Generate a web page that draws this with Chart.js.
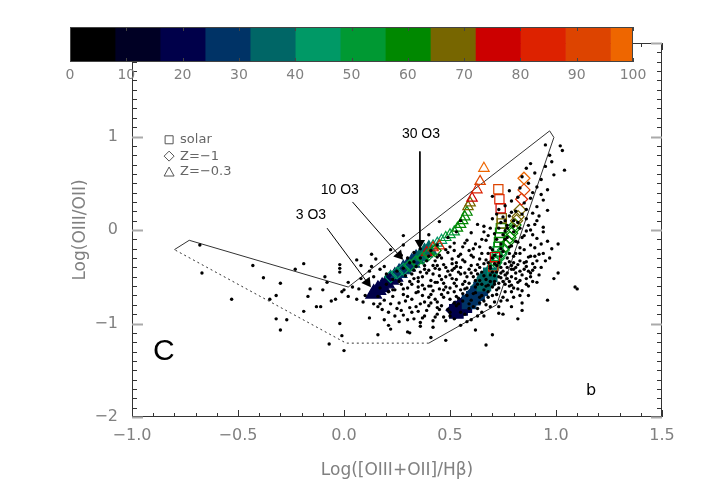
<!DOCTYPE html>
<html>
<head>
<meta charset="utf-8">
<script src="https://cdn.jsdelivr.net/npm/chart.js@4"></script>
<style>
  html, body { margin: 0; padding: 0; background: #fff; }
  #wrap { position: relative; width: 703px; height: 503px; }
  #wrap canvas { position: absolute; left: 0; top: 0; }
</style>
</head>
<body>
<div id="wrap">
  <canvas id="plot" width="703" height="503"></canvas>
  <canvas id="cbar" width="703" height="90"></canvas>
</div>
<script>
// colour bar
const cbarEdges = [0, 8, 16, 24, 32, 40, 48, 56, 64, 72, 80, 88, 96, 100];
const cbarColors = ['#000000', '#000024', '#00004a', '#003366', '#006666', '#009966',
  '#009933', '#008800', '#776600', '#cc0000', '#dd2200', '#dd4400', '#ee6600'];
const cbarTicks = [0, 10, 20, 30, 40, 50, 60, 70, 80, 90, 100];

// axes
const xTicks = [-1.0, -0.5, 0.0, 0.5, 1.0, 1.5];
const yTicks = [-2, -1, 0, 1, 2];

// envelope (solid part, then dotted part)
const envelopeSolid = [[-0.80, -0.21], [-0.73, -0.11], [0.02, -0.61], [0.97, 1.06],
  [0.99, 0.99], [0.72, -0.80], [0.40, -1.21]];
const envelopeDotted = [[0.40, -1.21], [0.01, -1.21], [-0.80, -0.21]];

// model tracks: [x, y, value on colour bar]
const zm03Track = [
  [0.14, -0.68, 17], [0.16, -0.64, 18], [0.18, -0.61, 19], [0.20, -0.57, 20], [0.22, -0.53, 22],
  [0.24, -0.50, 23], [0.26, -0.46, 25], [0.28, -0.42, 26], [0.30, -0.39, 28], [0.32, -0.35, 29],
  [0.34, -0.31, 31], [0.36, -0.28, 33], [0.38, -0.24, 35], [0.40, -0.21, 38],
  [0.42, -0.17, 41], [0.44, -0.14, 44], [0.46, -0.11, 47], [0.48, -0.08, 50], [0.50, -0.05, 52],
  [0.52, -0.02, 54], [0.535, 0.02, 56], [0.55, 0.06, 58], [0.56, 0.10, 60], [0.57, 0.14, 62],
  [0.58, 0.19, 63], [0.585, 0.25, 66], [0.595, 0.29, 69],
  [0.604, 0.34, 75], [0.627, 0.43, 82], [0.642, 0.52, 90], [0.66, 0.66, 98],
  [0.39, -0.24, 76], [0.42, -0.19, 80], [0.45, -0.17, 84]
];
const zm1Track = [
  [0.524, -0.857, 17], [0.545, -0.83, 19], [0.563, -0.804, 21], [0.585, -0.76, 23], [0.61, -0.714, 26],
  [0.625, -0.66, 29], [0.642, -0.607, 32], [0.655, -0.56, 35], [0.673, -0.50, 38],
  [0.688, -0.45, 42], [0.704, -0.393, 46], [0.716, -0.35, 48], [0.728, -0.304, 50], [0.74, -0.26, 52],
  [0.752, -0.214, 54], [0.763, -0.17, 56], [0.775, -0.125, 58], [0.783, -0.08, 60], [0.791, -0.036, 61],
  [0.80, 0.01, 62], [0.807, 0.054, 63], [0.814, 0.10, 66], [0.821, 0.143, 68], [0.830, 0.214, 70],
  [0.838, 0.329, 80], [0.849, 0.429, 88], [0.849, 0.554, 97],
  [0.22, -0.50, 45], [0.25, -0.46, 46], [0.28, -0.42, 47], [0.31, -0.38, 48], [0.34, -0.34, 50],
  [0.37, -0.30, 52], [0.40, -0.26, 55], [0.43, -0.22, 58]
];
const solarTrack = [
  [0.53, -0.87, 18], [0.55, -0.84, 20], [0.57, -0.81, 22], [0.59, -0.77, 24], [0.61, -0.73, 26],
  [0.63, -0.68, 28], [0.645, -0.63, 30], [0.66, -0.58, 33], [0.675, -0.53, 35], [0.69, -0.48, 38],
  [0.70, -0.43, 42], [0.708, -0.38, 45], [0.714, -0.33, 48], [0.72, -0.28, 50], [0.724, -0.23, 52],
  [0.728, -0.18, 54], [0.731, -0.13, 56], [0.734, -0.08, 58], [0.736, -0.03, 60], [0.74, 0.02, 62],
  [0.744, 0.07, 65], [0.744, 0.125, 68], [0.739, 0.232, 76], [0.733, 0.329, 85], [0.728, 0.436, 95],
  [0.712, -0.29, 78], [0.704, -0.39, 80]
];

// arrows: [x0, y0, x1, y1] and their labels
const arrowLines = [[-0.08, 0.02, 0.11, -0.56], [0.04, 0.30, 0.26, -0.27], [0.358, 0.84, 0.358, -0.14]];
const arrowLabels = ['3 O3', '10 O3', '30 O3'];
const arrowLabelPos = [[-0.156, 0.16], [-0.02, 0.43], [0.363, 1.03]];

// observed galaxies
const galaxyDots = [
  [-0.68, -0.16], [-0.67, -0.46], [-0.53, -0.74], [-0.43, -0.38], [-0.38, -0.51], [-0.35, -0.74],
  [-0.32, -0.70], [-0.30, -0.57], [-0.32, -0.95], [-0.27, -0.96], [-0.30, -1.07], [-0.23, -0.42],
  [-0.19, -0.36], [-0.16, -0.63], [-0.17, -0.71], [-0.19, -0.87], [-0.13, -0.82], [-0.11, -0.82],
  [-0.10, -0.64], [-0.09, -0.50], [-0.08, -0.56], [-0.06, -0.76], [-0.04, -0.74], [-0.02, -0.37],
  [-0.02, -0.41], [-0.02, -0.45], [-0.07, -1.22], [-0.02, -1.00], [-0.01, -1.13], [0.00, -1.29],
  [-0.01, -0.66], [0.00, -0.64], [0.02, -0.56], [0.02, -0.71], [0.04, -0.61], [0.06, -0.32],
  [0.06, -0.74], [0.08, -0.38], [0.08, -0.52], [0.09, -0.77], [0.12, -0.94], [0.13, -0.26],
  [0.14, -0.79], [0.15, -0.31], [0.13, -0.39], [0.16, -1.12], [0.17, -0.79], [0.19, -0.39],
  [0.19, -0.96], [0.21, -1.02], [0.22, -1.06], [0.22, -0.21], [0.23, -0.64], [0.26, -0.98],
  [0.28, -0.06], [0.28, -0.16], [0.31, -1.10],
  [0.95, 0.91], [1.02, 0.90], [1.03, 0.85], [0.97, 0.80],
  [0.98, 0.73], [0.88, 0.71], [1.04, 0.64], [0.90, 0.61], [0.99, 0.59], [0.93, 0.54], [0.86, 0.66], [0.95, 0.68],
  [0.91, 0.46], [0.96, 0.43], [0.87, 0.50], [0.83, 0.45], [0.89, 0.40], [0.84, 0.57], [0.93, 0.38], [0.78, 0.42],
  [0.94, 0.32], [0.96, 0.21], [0.91, 0.25], [0.89, 0.18], [0.85, 0.29], [0.82, 0.35], [0.79, 0.31],
  [0.86, 0.22], [0.76, 0.26], [0.81, 0.20], [0.78, 0.15], [0.88, 0.34], [0.73, 0.22], [0.70, 0.36],
  [0.45, 0.09], [0.66, 0.04], [0.70, 0.12], [0.74, 0.08], [0.77, 0.05], [0.80, 0.10], [0.83, 0.02],
  [0.86, 0.12], [0.90, 0.06], [0.92, 0.15], [0.72, 0.17], [0.75, 0.14], [0.69, 0.02], [0.63, 0.06],
  [0.55, 0.10], [0.84, 0.17], [0.79, 0.19], [0.94, 0.03], [0.88, 0.00],
  [0.53, -0.02], [0.58, -0.11], [0.64, -0.18], [0.67, -0.11], [0.71, -0.04], [0.74, -0.15],
  [0.77, -0.08], [0.80, -0.02], [0.82, -0.13], [0.85, -0.06], [0.88, -0.16], [0.91, -0.09], [0.94, -0.02],
  [1.01, -0.15], [0.60, -0.03], [0.62, -0.15], [0.69, -0.19], [0.72, -0.10], [0.79, -0.17], [0.83, -0.19],
  [0.86, -0.01], [0.49, -0.08], [0.44, -0.16], [0.40, -0.05], [0.35, -0.12], [0.56, -0.18], [0.76, -0.01],
  [0.90, -0.19], [0.96, -0.12], [0.66, -0.02], [0.52, -0.14],
  [0.27, -0.27], [0.31, -0.35], [0.33, -0.24], [0.36, -0.30], [0.38, -0.38], [0.41, -0.22],
  [0.43, -0.33], [0.45, -0.27], [0.47, -0.37], [0.49, -0.24], [0.51, -0.31], [0.53, -0.39], [0.55, -0.26],
  [0.57, -0.34], [0.59, -0.22], [0.61, -0.29], [0.63, -0.37], [0.65, -0.25], [0.67, -0.32], [0.69, -0.39],
  [0.71, -0.27], [0.73, -0.35], [0.75, -0.23], [0.77, -0.30], [0.79, -0.38], [0.81, -0.25], [0.83, -0.33],
  [0.85, -0.21], [0.87, -0.29], [0.89, -0.36], [0.92, -0.26], [0.95, -0.33], [0.34, -0.39], [0.40, -0.28],
  [0.48, -0.21], [0.60, -0.38], [0.70, -0.21], [0.76, -0.36], [0.80, -0.28], [0.86, -0.39], [0.44, -0.38],
  [0.52, -0.22], [0.64, -0.31], [0.74, -0.28], [0.82, -0.37],
  [0.12, -0.44], [0.17, -0.42], [0.20, -0.47], [0.23, -0.53], [0.25, -0.44], [0.27, -0.58], [0.29, -0.49],
  [0.31, -0.55], [0.33, -0.43], [0.35, -0.51], [0.37, -0.59], [0.39, -0.46], [0.41, -0.54], [0.43, -0.41],
  [0.45, -0.49], [0.47, -0.57], [0.49, -0.44], [0.51, -0.52], [0.53, -0.60], [0.55, -0.47], [0.57, -0.55],
  [0.59, -0.42], [0.61, -0.50], [0.63, -0.58], [0.65, -0.45], [0.67, -0.53], [0.69, -0.41], [0.71, -0.49],
  [0.73, -0.57], [0.75, -0.44], [0.77, -0.52], [0.79, -0.59], [0.81, -0.46], [0.83, -0.54], [0.85, -0.42],
  [0.88, -0.50], [0.91, -0.56], [0.88, -0.46], [0.32, -0.47], [0.38, -0.42], [0.44, -0.56], [0.50, -0.48],
  [0.56, -0.58], [0.62, -0.43], [0.68, -0.59], [0.74, -0.51], [0.80, -0.42], [0.86, -0.58], [0.28, -0.41],
  [0.40, -0.60], [0.52, -0.41], [0.64, -0.54], [0.76, -0.48], [1.01, -0.46], [0.99, -0.52],
  [0.17, -0.62], [0.19, -0.75], [0.21, -0.66], [0.23, -0.71], [0.24, -0.64], [0.26, -0.78], [0.28, -0.69],
  [0.30, -0.62], [0.32, -0.74], [0.34, -0.67], [0.36, -0.79], [0.38, -0.63], [0.40, -0.72], [0.42, -0.65],
  [0.44, -0.77], [0.46, -0.69], [0.48, -0.61], [0.50, -0.74], [0.52, -0.66], [0.54, -0.79], [0.56, -0.68],
  [0.58, -0.62], [0.60, -0.75], [0.62, -0.67], [0.64, -0.78], [0.66, -0.64], [0.68, -0.72], [0.70, -0.61],
  [0.72, -0.69], [0.74, -0.76], [0.77, -0.75], [0.79, -0.66], [0.82, -0.63], [0.84, -0.78], [0.87, -0.70],
  [0.96, -0.75], [1.09, -0.61], [1.10, -0.63], [0.29, -0.76], [0.35, -0.61], [0.41, -0.78], [0.47, -0.64],
  [0.53, -0.71], [0.59, -0.79], [0.65, -0.70], [0.71, -0.77],
  [0.16, -0.82], [0.21, -0.88], [0.25, -0.84], [0.28, -0.91], [0.31, -0.83], [0.33, -0.95], [0.35, -0.87],
  [0.38, -0.92], [0.40, -0.81], [0.42, -0.97], [0.45, -0.85], [0.47, -0.93], [0.50, -0.88], [0.53, -0.81],
  [0.57, -0.90], [0.60, -0.96], [0.63, -0.84], [0.66, -0.92], [0.69, -0.82], [0.73, -0.89], [0.79, -0.82],
  [0.84, -0.86], [0.36, -0.99], [0.44, -0.90],
  [0.30, -1.09], [0.42, -1.04], [0.48, -1.18], [0.62, -1.07], [0.67, -1.23], [0.41, -1.15], [0.55, -1.02],
  [0.36, -1.03], [0.70, -1.12],
  [0.70, -0.30], [0.72, -0.45], [0.74, -0.20], [0.76, -0.10], [0.78, -0.25], [0.80, -0.35], [0.71, -0.55],
  [0.73, -0.62], [0.75, -0.05], [0.77, 0.02], [0.79, -0.42], [0.81, -0.12], [0.69, -0.48], [0.68, -0.35],
  [0.83, -0.25], [0.75, -0.55], [0.78, -0.60],
  [0.30, -0.30], [0.32, -0.58], [0.34, -0.82], [0.36, -0.45], [0.37, -0.70], [0.39, -0.33], [0.39, -0.86],
  [0.41, -0.60], [0.42, -0.47], [0.43, -0.74], [0.44, -0.29], [0.46, -0.53], [0.46, -0.81], [0.48, -0.40],
  [0.49, -0.67], [0.50, -0.92], [0.51, -0.36], [0.52, -0.57], [0.54, -0.45], [0.54, -0.73], [0.55, -0.88],
  [0.56, -0.32], [0.57, -0.63], [0.58, -0.50], [0.59, -0.84], [0.60, -0.27], [0.61, -0.68], [0.62, -0.54],
  [0.63, -0.92], [0.64, -0.40], [0.66, -0.76], [0.66, -0.36], [0.67, -0.60], [0.68, -0.25], [0.70, -0.70],
  [0.71, -0.58], [0.72, -0.38], [0.73, -0.82], [0.74, -0.46], [0.76, -0.66], [0.77, -0.40], [0.78, -0.55],
  [0.80, -0.72], [0.81, -0.52], [0.83, -0.44], [0.84, -0.65], [0.86, -0.34], [0.87, -0.60], [0.89, -0.43],
  [0.90, -0.28], [0.92, -0.48], [0.93, -0.15], [0.35, -0.55], [0.45, -0.63], [0.53, -0.35], [0.65, -0.88],
  [0.75, -0.90], [0.82, -0.95],
  [0.26, -0.55], [0.28, -0.63], [0.30, -0.71], [0.33, -0.52], [0.35, -0.66], [0.37, -0.50], [0.38, -0.77],
  [0.40, -0.43], [0.41, -0.69], [0.43, -0.56], [0.44, -0.83], [0.45, -0.42], [0.47, -0.72], [0.48, -0.50],
  [0.49, -0.85], [0.50, -0.62], [0.51, -0.43], [0.52, -0.78], [0.53, -0.53], [0.55, -0.64], [0.55, -0.40],
  [0.56, -0.76], [0.57, -0.46], [0.58, -0.70], [0.59, -0.57], [0.60, -0.46], [0.61, -0.82], [0.62, -0.61],
  [0.63, -0.47], [0.64, -0.72], [0.65, -0.58], [0.66, -0.49], [0.67, -0.80], [0.68, -0.66], [0.69, -0.55],
  [0.70, -0.45], [0.71, -0.36], [0.72, -0.64], [0.73, -0.50], [0.74, -0.40], [0.75, -0.72], [0.76, -0.58],
  [0.77, -0.46], [0.78, -0.34], [0.79, -0.50], [0.80, -0.62], [0.81, -0.40], [0.82, -0.56], [0.83, -0.70],
  [0.84, -0.48], [0.85, -0.35], [0.86, -0.52], [0.87, -0.44], [0.88, -0.28], [0.89, -0.55], [0.90, -0.40],
  [0.91, -0.33], [0.93, -0.40], [0.94, -0.25], [0.97, -0.30], [0.98, -0.20], [0.33, -0.34], [0.36, -0.20],
  [0.42, -0.38], [0.46, -0.30], [0.50, -0.18], [0.54, -0.28], [0.57, -0.14], [0.61, -0.20], [0.65, -0.10],
  [0.68, -0.06], [0.73, 0.02], [0.76, 0.10], [0.78, -0.18], [0.80, 0.04], [0.82, 0.08], [0.84, -0.08],
  [0.87, 0.05], [0.89, -0.05], [0.91, 0.10], [0.20, -0.58], [0.22, -0.79], [0.18, -0.85], [0.24, -0.92],
  [0.27, -0.86], [0.30, -0.96], [0.32, -0.88], [0.37, -0.94], [0.43, -0.93], [0.48, -0.97], [0.52, -0.95],
  [0.58, -0.98], [0.11, -0.55], [0.10, -0.70], [0.07, -0.63], [0.14, -0.50], [0.16, -0.71]
];

const GREY = '#808080';
const FONT = 'DejaVu Sans';

function colorFor(v) {
  for (let i = 0; i < cbarColors.length; i++) {
    if (v < cbarEdges[i + 1]) return cbarColors[i];
  }
  return cbarColors[cbarColors.length - 1];
}

function fmt(v, d) {
  return (v < 0 ? '\u2212' : '') + Math.abs(v).toFixed(d);
}

function trackDataset(track, style, radius) {
  return {
    data: track.map(p => ({ x: p[0], y: p[1] })),
    pointStyle: style,
    pointRadius: track.map(p => p[2] < 40 ? radius + 3 : radius),
    pointBorderColor: track.map(p => colorFor(p[2])),
    pointBackgroundColor: track.map(p => p[2] < 40 ? colorFor(p[2]) : 'rgba(0,0,0,0)'),
    pointBorderWidth: 1.2,
    showLine: false
  };
}

function arrowDataset(a) {
  return {
    data: [{ x: a[0], y: a[1] }, { x: a[2], y: a[3] }],
    showLine: true,
    borderColor: '#000',
    borderWidth: 1,
    pointRadius: [0, 6],
    pointStyle: 'triangle',
    pointBackgroundColor: '#000',
    pointBorderColor: '#000',
    pointBorderWidth: 0,
    pointRotation: ctx => {
      const xs = ctx.chart.scales.x, ys = ctx.chart.scales.y;
      const dx = xs.getPixelForValue(a[2]) - xs.getPixelForValue(a[0]);
      const dy = ys.getPixelForValue(a[3]) - ys.getPixelForValue(a[1]);
      return Math.atan2(dx, -dy) * 180 / Math.PI;
    }
  };
}

// frame, inward ticks and the text inside the plot
const frameTicks = {
  id: 'frameTicks',
  afterDraw(chart) {
    const { ctx, chartArea: a, scales: { x, y } } = chart;
    ctx.save();
    ctx.strokeStyle = '#333';
    ctx.lineWidth = 1;
    ctx.strokeRect(a.left + 0.5, a.top + 0.5, a.right - a.left - 1, a.bottom - a.top - 1);

    for (let k = -10; k <= 15; k++) {
      const px = Math.round(x.getPixelForValue(k / 10)) + 0.5;
      const major = k % 5 === 0;
      const len = major ? 7 : 4;
      ctx.strokeStyle = '#333';
      ctx.beginPath();
      ctx.moveTo(px, a.bottom); ctx.lineTo(px, a.bottom - len);
      ctx.moveTo(px, a.top); ctx.lineTo(px, a.top + len);
      ctx.stroke();
    }
    for (let k = -20; k <= 20; k++) {
      const py = Math.round(y.getPixelForValue(k / 10)) + 0.5;
      const major = k % 10 === 0;
      ctx.strokeStyle = major ? '#aaa' : '#333';
      ctx.lineWidth = major ? 2 : 1;
      const len = major ? 11 : 5;
      ctx.beginPath();
      ctx.moveTo(a.left, py); ctx.lineTo(a.left + len, py);
      ctx.moveTo(a.right, py); ctx.lineTo(a.right - len, py);
      ctx.stroke();
    }

    // legend
    const lx = x.getPixelForValue(-0.825);
    const rows = [['rect', 'solar', 0.965], ['diamond', 'Z=\u22121', 0.79], ['triangle', 'Z=\u22120.3', 0.62]];
    ctx.strokeStyle = '#555';
    ctx.lineWidth = 1;
    ctx.fillStyle = '#666';
    ctx.font = '13px "' + FONT + '"';
    ctx.textBaseline = 'middle';
    ctx.textAlign = 'left';
    for (const [shape, label, yv] of rows) {
      const ly = y.getPixelForValue(yv);
      ctx.beginPath();
      if (shape === 'rect') ctx.rect(lx - 4, ly - 4, 8, 8);
      if (shape === 'diamond') { ctx.moveTo(lx, ly - 5); ctx.lineTo(lx + 5, ly); ctx.lineTo(lx, ly + 5); ctx.lineTo(lx - 5, ly); ctx.closePath(); }
      if (shape === 'triangle') { ctx.moveTo(lx, ly - 5); ctx.lineTo(lx + 5, ly + 4); ctx.lineTo(lx - 5, ly + 4); ctx.closePath(); }
      ctx.stroke();
      ctx.fillText(label, lx + 11, ly);
    }

    // arrow labels
    ctx.fillStyle = '#000';
    ctx.font = '14px "Liberation Sans"';
    ctx.textAlign = 'center';
    arrowLabels.forEach((t, i) => {
      ctx.fillText(t, x.getPixelForValue(arrowLabelPos[i][0]), y.getPixelForValue(arrowLabelPos[i][1]));
    });

    ctx.font = '30px "Liberation Sans"';
    ctx.fillText('C', x.getPixelForValue(-0.85), y.getPixelForValue(-1.3));
    ctx.font = '16px "DejaVu Sans"';
    ctx.fillText('b', x.getPixelForValue(1.165), y.getPixelForValue(-1.72));
    ctx.restore();
  }
};

new Chart(document.getElementById('plot'), {
  type: 'scatter',
  data: {
    datasets: [
      {
        data: galaxyDots.map(p => ({ x: p[0], y: p[1] })),
        pointRadius: 1.7,
        pointBackgroundColor: '#000',
        pointBorderWidth: 0
      },
      ...arrowLines.map(arrowDataset),
      trackDataset(solarTrack, 'rect', 6.5),
      trackDataset(zm1Track, 'rectRot', 6),
      trackDataset(zm03Track, 'triangle', 6),
      {
        data: envelopeSolid.map(p => ({ x: p[0], y: p[1] })),
        showLine: true, borderColor: '#333', borderWidth: 1, pointRadius: 0
      },
      {
        data: envelopeDotted.map(p => ({ x: p[0], y: p[1] })),
        showLine: true, borderColor: '#333', borderWidth: 1, borderDash: [2, 3], pointRadius: 0
      }
    ]
  },
  options: {
    responsive: false,
    animation: false,
    events: [],
    layout: { padding: { left: 70, top: 43, right: 41, bottom: 20 } },
    plugins: { legend: { display: false }, tooltip: { enabled: false } },
    scales: {
      x: {
        type: 'linear', min: -1, max: 1.5,
        afterBuildTicks: s => { s.ticks = xTicks.map(v => ({ value: v })); },
        afterFit: s => { s.height = 66; },
        grid: { display: false, drawTicks: false },
        border: { display: false },
        ticks: { callback: v => fmt(v, 1), color: GREY, font: { family: FONT, size: 16 }, padding: 9, maxRotation: 0, autoSkip: false },
        title: { display: true, text: 'Log([OIII+OII]/H\u03b2)', color: GREY, font: { family: FONT, size: 17 }, padding: { top: 0, bottom: 2 } }
      },
      y: {
        type: 'linear', min: -2, max: 2,
        afterBuildTicks: s => { s.ticks = yTicks.map(v => ({ value: v })); },
        afterFit: s => { s.width = 62; },
        grid: { display: false, drawTicks: false },
        border: { display: false },
        ticks: { callback: v => v === 2 ? '' : fmt(v, 0), color: GREY, font: { family: FONT, size: 16 }, padding: 14 },
        title: { display: true, text: 'Log(OIII/OII)', color: GREY, font: { family: FONT, size: 17 }, padding: 0 }
      }
    }
  },
  plugins: [frameTicks]
});

// colour bar
const cbarFrame = {
  id: 'cbarFrame',
  afterDraw(chart) {
    const { ctx, chartArea: a, scales: { x } } = chart;
    ctx.save();
    ctx.strokeStyle = '#444';
    ctx.lineWidth = 1;
    ctx.strokeRect(a.left + 0.5, a.top + 0.5, a.right - a.left - 1, a.bottom - a.top - 1);
    for (const v of cbarTicks) {
      const px = Math.round(x.getPixelForValue(v)) + 0.5;
      ctx.beginPath();
      ctx.moveTo(px, a.top); ctx.lineTo(px, a.top + 4);
      ctx.moveTo(px, a.bottom); ctx.lineTo(px, a.bottom - 4);
      ctx.stroke();
    }
    ctx.restore();
  }
};

new Chart(document.getElementById('cbar'), {
  type: 'bar',
  data: {
    labels: ['c'],
    datasets: cbarColors.map((c, i) => ({
      data: [[cbarEdges[i], cbarEdges[i + 1]]],
      backgroundColor: c,
      borderWidth: 0,
      grouped: false,
      barPercentage: 1,
      categoryPercentage: 1
    }))
  },
  options: {
    indexAxis: 'y',
    responsive: false,
    animation: false,
    events: [],
    layout: { padding: { left: 70, right: 70, top: 27, bottom: 0 } },
    plugins: { legend: { display: false }, tooltip: { enabled: false } },
    scales: {
      x: {
        type: 'linear', min: 0, max: 100,
        afterBuildTicks: s => { s.ticks = cbarTicks.map(v => ({ value: v })); },
        afterFit: s => { s.height = 28; },
        grid: { display: false, drawTicks: false },
        border: { display: false },
        ticks: { color: GREY, font: { family: FONT, size: 14 }, padding: 5, maxRotation: 0, autoSkip: false }
      },
      y: { display: false }
    }
  },
  plugins: [cbarFrame]
});
</script>
</body>
</html>
